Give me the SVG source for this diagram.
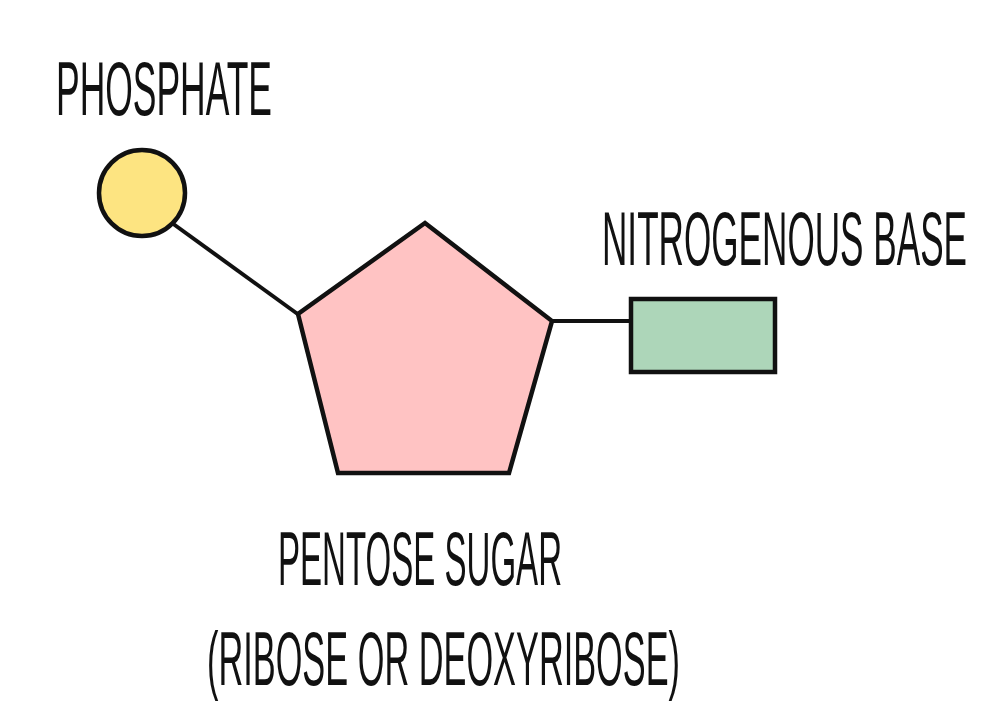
<svg xmlns="http://www.w3.org/2000/svg" width="1000" height="724" viewBox="0 0 1000 724">
<style>
.lbl{font-family:"Liberation Sans",Arial,sans-serif;font-size:76px;fill:#111;}
.shape{stroke:#111;stroke-width:4.5;stroke-linejoin:miter;}
.conn{stroke:#111;stroke-width:4;fill:none;}
</style>
<rect width="1000" height="724" fill="#fff"/>
<g id="connectors">
<line class="conn" x1="172" y1="223" x2="299" y2="315"/>
<line class="conn" x1="552" y1="321" x2="631" y2="321"/>
</g>
<g id="phosphate">
<circle class="shape" cx="142" cy="193" r="43" fill="#FDE481"/>
<text class="lbl" transform="translate(56,115) scale(0.455,1)" textLength="474.7" lengthAdjust="spacingAndGlyphs">PHOSPHATE</text>
</g>
<g id="pentose-sugar">
<polygon class="shape" points="425,223 552,321 509,473 338,473 298,314" fill="#FFC3C3"/>
<text class="lbl" transform="translate(278,585) scale(0.455,1)" textLength="624.2" lengthAdjust="spacingAndGlyphs">PENTOSE SUGAR</text>
<text class="lbl" transform="translate(207,685) scale(0.455,1)" textLength="1039.6" lengthAdjust="spacingAndGlyphs">(RIBOSE OR DEOXYRIBOSE)</text>
</g>
<g id="nitrogenous-base">
<rect class="shape" x="631" y="299" width="144" height="73" fill="#ADD6B9"/>
<text class="lbl" transform="translate(602,265) scale(0.455,1)" textLength="802.2" lengthAdjust="spacingAndGlyphs">NITROGENOUS BASE</text>
</g>
</svg>
